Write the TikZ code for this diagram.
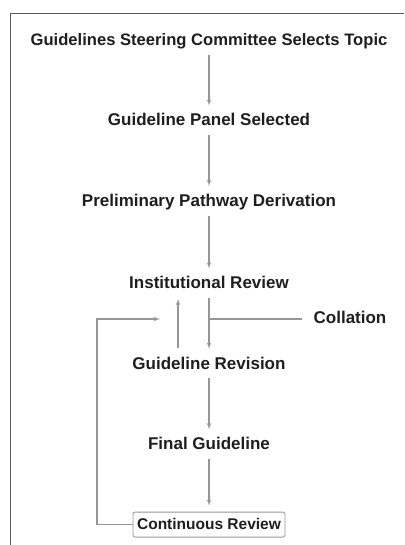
\documentclass[tikz,border=0pt]{standalone}
\usepackage{fontspec}
\setmainfont{Liberation Sans}
\usetikzlibrary{arrows,positioning,calc}
\definecolor{linecolor}{RGB}{150,150,150}
\definecolor{framecolor}{RGB}{90,90,90}
\definecolor{textcolor}{RGB}{30,30,30}
\tikzset{flow/.style={draw=linecolor,line width=1.1pt,shorten <=4pt,shorten >=6pt}}

\begin{document}
\begin{tikzpicture}[x=1pt,y=-1pt,node distance=61pt,>=latex',every node/.style={font=\fontsize{17}{20}\selectfont\bfseries,text=textcolor,text height=12pt,text depth=3pt,inner sep=2pt}]
\useasboundingbox (0,0) rectangle (404,545);
\draw[framecolor,line width=0.8pt](404,13)--(10,13)--(10,545);
\node[font=\fontsize{16.6}{20}\selectfont\bfseries](topic) at (209,41){Guidelines Steering Committee Selects Topic};
\node[below=of topic](panel){Guideline Panel Selected};
\node[below=of panel](prelim){Preliminary Pathway Derivation};
\node[below=63pt of prelim](inst){Institutional Review};
\node[below=of inst](revision){Guideline Revision};
\node[below=of revision](final){Final Guideline};
\node[draw=linecolor,line width=0.8pt,rounded corners=2pt,below=57pt of final,font=\fontsize{15.5}{18}\selectfont\bfseries,inner xsep=4pt,minimum height=25pt](review){Continuous Review};
\node(collation) at (350,319){Collation};
\coordinate(join) at (209,319);
\coordinate(loopcorner) at (97,319);
\coordinate(loopend) at (160,319);
\draw[->,flow](topic)--(panel); \draw[->,flow](panel)--(prelim); \draw[->,flow](prelim)--(inst); \draw[->,flow](inst)--(revision); \draw[->,flow](revision)--(final); \draw[->,flow](final)--(review);
\draw[->,flow,shorten <=7pt,shorten >=5pt]([xshift=-31pt]revision.north)--([xshift=-31pt]inst.south);
\draw[flow,shorten <=9pt,shorten >=0pt](collation)--(join);
\draw[->,flow,shorten <=0pt,shorten >=0pt](review.west)-|(loopcorner)--(loopend);
\end{tikzpicture}
\end{document}
